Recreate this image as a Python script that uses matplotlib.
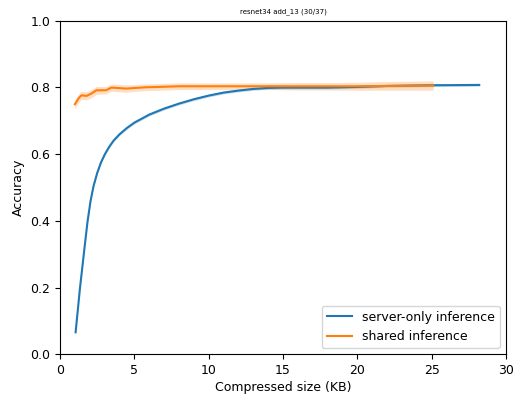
import matplotlib
matplotlib.use("Agg")
import matplotlib.pyplot as plt
import numpy as np

title = "resnet34 add_13 (30/37)"
xlabel = "Compressed size (KB)"
ylabel = "Accuracy"
labels = ["server-only inference", "shared inference"]

server_x = [1.05, 1.34, 1.6, 1.85, 2.05, 2.25, 2.5, 2.75, 3.0, 3.3, 3.6, 4.0, 4.5, 5.0, 6.0,
            7.0, 8.0, 9.0, 10.0, 11.0, 12.0, 13.0, 14.0, 15.0, 16.0, 18.0, 20.0, 22.0, 25.0,
            28.2]
server_y = [0.066, 0.197, 0.30, 0.397, 0.458, 0.503, 0.543, 0.574, 0.598, 0.621, 0.640,
            0.659, 0.678, 0.694, 0.718, 0.736, 0.751, 0.764, 0.775, 0.784, 0.790, 0.795,
            0.798, 0.799, 0.799, 0.799, 0.801, 0.804, 0.806, 0.807]
server_err = [0.004] * len(server_x)

shared_x = [1.0, 1.27, 1.45, 1.78, 2.11, 2.45, 3.1, 3.45, 3.78, 4.45, 5.1, 5.8, 6.7, 8.0,
            9.0, 10.0, 12.0, 14.0, 16.0, 18.0, 20.0, 22.0, 25.1]
shared_y = [0.749, 0.768, 0.776, 0.774, 0.781, 0.791, 0.791, 0.799, 0.798, 0.796, 0.798,
            0.800, 0.801, 0.803, 0.803, 0.803, 0.803, 0.803, 0.803, 0.803, 0.803, 0.804,
            0.805]
shared_err = [0.014, 0.013, 0.012, 0.012, 0.012, 0.012, 0.011, 0.011, 0.011, 0.011, 0.010,
              0.010, 0.010, 0.010, 0.010, 0.010, 0.010, 0.010, 0.011, 0.011, 0.012, 0.013,
              0.014]

fig = plt.figure(figsize=(5.15, 3.96), dpi=100)
ax = fig.add_axes([60/515, 1-354.3/396, 446/515, 333.8/396])

c1, c2 = "#1f77b4", "#ff7f0e"
sx, sy, se = map(np.array, (server_x, server_y, server_err))
hx, hy, he = map(np.array, (shared_x, shared_y, shared_err))
ax.plot(sx, sy, color=c1, lw=1.5, label=labels[0])
ax.fill_between(sx, sy - se, sy + se, color=c1, alpha=0.25, lw=0)
ax.plot(hx, hy, color=c2, lw=1.5, label=labels[1])
ax.fill_between(hx, hy - he, hy + he, color=c2, alpha=0.25, lw=0)

ax.set_xlim(0, 30)
ax.set_ylim(0, 1.0)
ax.set_xticks([0, 5, 10, 15, 20, 25, 30])
ax.set_yticks([0.0, 0.2, 0.4, 0.6, 0.8, 1.0])
ax.set_xlabel(xlabel, fontsize=9, labelpad=3)
ax.set_ylabel(ylabel, fontsize=9)
ax.set_title(title, fontsize=5, pad=5)
ax.tick_params(labelsize=9)
ax.legend(loc="lower right", fontsize=9)

fig.savefig("out.png", dpi=100)
